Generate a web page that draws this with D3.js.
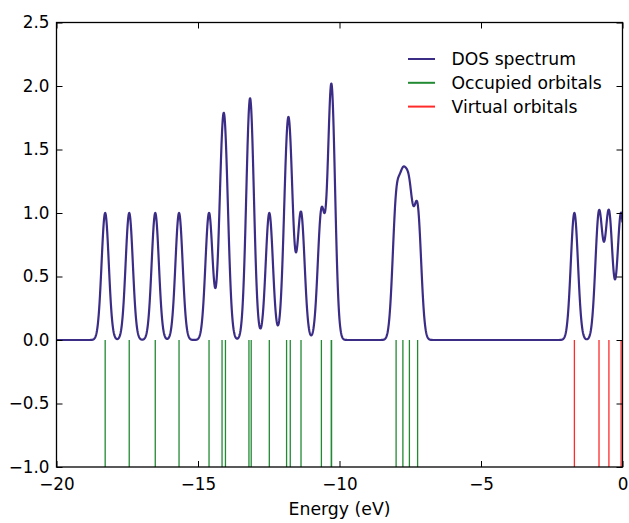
<!DOCTYPE html>
<html>
<head>
<meta charset="utf-8">
<script src="https://cdn.jsdelivr.net/npm/d3@7"></script>
<style>
  html, body { margin: 0; padding: 0; background: #fff; }
  svg { display: block; font-family: "DejaVu Sans", sans-serif; }
</style>
</head>
<body>
<svg id="chart" width="629" height="523"></svg>
<script>
// ---- data ----
const occupiedOrbitals = [-18.28, -17.43, -16.51, -15.67, -14.61, -14.15, -14.03,
  -13.20, -13.12, -12.48, -11.87, -11.74, -11.36, -10.64, -10.29, -10.28,
  -8.00, -7.76, -7.53, -7.24];
const virtualOrbitals = [-1.70, -0.83, -0.48, -0.05];
const broadeningSigma = 0.127;   // eV, Gaussian width of each DOS peak
const energyRange = [-20, 0];
const xTickValues = [-20, -15, -10, -5, 0];
const yTickValues = [-1.0, -0.5, 0.0, 0.5, 1.0, 1.5, 2.0, 2.5];
const legendLabels = ["DOS spectrum", "Occupied orbitals", "Virtual orbitals"];

(function () {
// DOS spectrum = Gaussian broadening of all orbital energies
const allOrbitals = occupiedOrbitals.concat(virtualOrbitals);
const gridEnergies = d3.range(0, 2001).map(i => energyRange[0] + i * (energyRange[1] - energyRange[0]) / 2000);
const dosValues = gridEnergies.map(e =>
  d3.sum(allOrbitals, o => Math.exp(-((e - o) ** 2) / (2 * broadeningSigma ** 2))));

// ---- layout ----
const mLeft = 56.5, mRight = 622.5, mTop = 22.5, mBottom = 467;
const colors = { dos: "#3b2c86", occ: "#218a33", virt: "#ff2a2a" };

const svg = d3.select("#chart");
const x = d3.scaleLinear().domain(energyRange).range([mLeft, mRight]);
const y = d3.scaleLinear().domain([-1, 2.5]).range([mBottom, mTop]);

svg.append("defs").append("clipPath").attr("id", "clip")
  .append("rect").attr("x", mLeft).attr("y", mTop).attr("width", mRight - mLeft).attr("height", mBottom - mTop);

const plot = svg.append("g").attr("clip-path", "url(#clip)");

// orbital sticks
plot.selectAll("line.occ").data(occupiedOrbitals).enter().append("line")
  .attr("class", "occ")
  .attr("x1", d => x(d)).attr("x2", d => x(d))
  .attr("y1", y(0)).attr("y2", y(-1))
  .attr("stroke", colors.occ).attr("stroke-width", 1.3);
plot.selectAll("line.virt").data(virtualOrbitals).enter().append("line")
  .attr("class", "virt")
  .attr("x1", d => x(d)).attr("x2", d => x(d))
  .attr("y1", y(0)).attr("y2", y(-1))
  .attr("stroke", colors.virt).attr("stroke-width", 1.3);

// DOS curve
plot.append("path")
  .datum(gridEnergies.map((e, i) => [e, dosValues[i]]))
  .attr("fill", "none").attr("stroke", colors.dos).attr("stroke-width", 2.2)
  .attr("stroke-linejoin", "round")
  .attr("d", d3.line().x(d => x(d[0])).y(d => y(d[1])));

// axes (ticks inside, on all four sides)
const tickLen = 6;
const fmtX = d3.format("d"), fmtY = d3.format(".1f");
const axisB = d3.axisBottom(x).tickValues(xTickValues).tickFormat(fmtX).tickSizeInner(-tickLen).tickSizeOuter(0).tickPadding(11);
const axisT = d3.axisTop(x).tickValues(xTickValues).tickFormat("").tickSizeInner(-tickLen).tickSizeOuter(0);
const axisL = d3.axisLeft(y).tickValues(yTickValues).tickFormat(fmtY).tickSizeInner(-tickLen).tickSizeOuter(0).tickPadding(7);
const axisR = d3.axisRight(y).tickValues(yTickValues).tickFormat("").tickSizeInner(-tickLen).tickSizeOuter(0);

function styleAxis(g) {
  g.select(".domain").remove();
  g.selectAll(".tick line").attr("stroke", "#000").attr("stroke-width", 1);
  g.selectAll(".tick text").attr("fill", "#000").style("font-size", "16.8px").style("font-family", "'DejaVu Sans', sans-serif");
}
svg.append("g").attr("transform", `translate(0,${mBottom})`).call(axisB).call(styleAxis);
svg.append("g").attr("transform", `translate(0,${mTop})`).call(axisT).call(styleAxis);
svg.append("g").attr("transform", `translate(${mLeft},0)`).call(axisL).call(styleAxis);
svg.append("g").attr("transform", `translate(${mRight},0)`).call(axisR).call(styleAxis);

// frame
svg.append("rect").attr("x", mLeft).attr("y", mTop).attr("width", mRight - mLeft).attr("height", mBottom - mTop)
  .attr("fill", "none").attr("stroke", "#000").attr("stroke-width", 1.3);

// x label
svg.append("text").attr("x", (mLeft + mRight) / 2).attr("y", 515)
  .attr("text-anchor", "middle").style("font-size", "17.3px").attr("fill", "#000")
  .text("Energy (eV)");

// legend
const legendColors = [colors.dos, colors.occ, colors.virt];
const lg = svg.append("g").attr("transform", "translate(408,59)");
legendLabels.forEach((label, i) => {
  const row = lg.append("g").attr("transform", `translate(0,${i * 23.8})`);
  row.append("line").attr("x1", 0).attr("x2", 27).attr("y1", 0).attr("y2", 0)
    .attr("stroke", legendColors[i]).attr("stroke-width", 2);
  row.append("text").attr("x", 43.5).attr("y", 0).attr("dy", "0.35em")
    .style("font-size", "17.2px").attr("fill", "#000").text(label);
});
})();
</script>
</body>
</html>
